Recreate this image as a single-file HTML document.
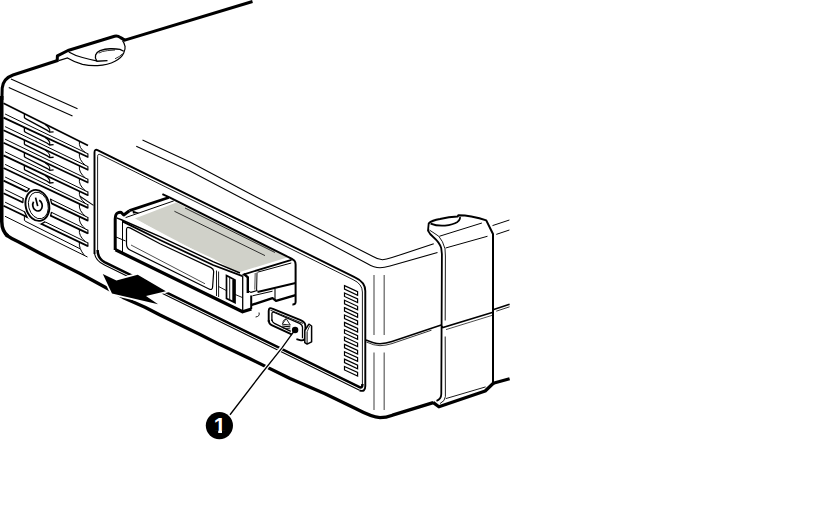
<!DOCTYPE html>
<html><head><meta charset="utf-8"><title>Tape drive eject</title>
<style>html,body{margin:0;padding:0;background:#fff;}svg{display:block;}</style>
</head><body>
<svg width="824" height="508" viewBox="0 0 824 508" stroke-linecap="butt">
<rect width="824" height="508" fill="#fff"/>
<path d="M252.5,1.5 L124,40.4" fill="none" stroke="#000" stroke-width="2.9" />
<path d="M125.2,40.4 L120.6,37.6 Q117.5,35.3 114.5,36.2 L68,50.5 L57.4,55.9 L57.2,60.6" fill="none" stroke="#000" stroke-width="3.0" stroke-linejoin="round"/>
<path d="M58.4,60.3 L13,75 Q3.2,78.4 2.2,88 L1.9,100" fill="none" stroke="#000" stroke-width="3.0" />
<path d="M1.75,96 L1.75,221.5 Q1.9,231.4 8,236.2" fill="none" stroke="#000" stroke-width="3.5" />
<path d="M5.6,234.6 Q11,238.4 18.3,241.8 L25,245.2 L40,253.2 L50,258.4 L80,273.5 L106.6,288 L123,297.4 L145,307.2 L160,315 L200,334.4 L220,344.6 L250,358.8 L290,378.4 L325,393.8 L356,408.8 Q372,417.2 380,417.6 Q386,417.6 392.5,415.2 L433.2,402.6" fill="none" stroke="#000" stroke-width="3.3" stroke-linejoin="round"/>
<path d="M58.75,60.6 L67.5,58 Q75,62.5 82.5,64.4 Q90,66 97.5,65.6 Q108,65 115,61.25 Q121.5,58 123.75,53 Q125.6,49 125,46.25 Q124.4,43 122.5,40.6" fill="none" stroke="#000" stroke-width="1.2" />
<path d="M68.75,51.9 Q75,55.5 82.5,57.5 Q89,59.2 96.5,60.8" fill="none" stroke="#000" stroke-width="1.2" />
<path d="M107.5,60.6 L96.9,61.25 Q94.6,58 95.6,55 Q96.6,52 100,50.6 Q105,48.9 110,48.75 Q116,48.6 120,49.4 L123.75,51.25" fill="none" stroke="#000" stroke-width="1.3" />
<path d="M98.75,53.1 Q102,51.2 107.5,50.6 L115,50" fill="none" stroke="#000" stroke-width="0.8" />
<path d="M115,58.75 Q120,56.6 122.5,53.75" fill="none" stroke="#000" stroke-width="0.8" />
<path d="M11.00,79.00 L77.50,108.75" fill="none" stroke="#000" stroke-width="1.1" />
<path d="M8.75,87.50 L72.50,116.00" fill="none" stroke="#000" stroke-width="1.1" />
<path d="M3.50,103.20 L88.00,145.60" fill="none" stroke="#000" stroke-width="1.7" />
<g id="fins">
<path d="M5.10,114.00 L87.90,153.80" fill="none" stroke="#000" stroke-width="1.0" />
<path d="M3.50,117.60 L87.90,157.00" fill="none" stroke="#000" stroke-width="1.8" />
<path d="M87.90,153.40 L87.90,157.70" fill="none" stroke="#000" stroke-width="1.1" />
<path d="M79.4,141.28 Q78.4,147.78 85.4,152.60" fill="none" stroke="#000" stroke-width="1.0" />
<path d="M24.4,113.69 L24.4,117.59 Q24.7,118.29 26.4,119.09 L47.3,130.38 L49.7,132.18 L53.6,131.78" fill="none" stroke="#000" stroke-width="1.3" />
<path d="M45.2,124.52 Q49,127.03 49.7,129.58 L49.7,132.18" fill="none" stroke="#000" stroke-width="1.1" />
<path d="M5.10,126.60 L87.90,166.53" fill="none" stroke="#000" stroke-width="1.0" />
<path d="M3.50,130.20 L87.90,169.73" fill="none" stroke="#000" stroke-width="1.8" />
<path d="M87.90,166.13 L87.90,170.43" fill="none" stroke="#000" stroke-width="1.1" />
<path d="M79.4,153.03 Q78.4,159.53 85.4,165.32" fill="none" stroke="#000" stroke-width="1.0" />
<path d="M24.4,127.36 L24.4,131.26 Q24.7,131.96 26.4,132.76 L47.3,143.25 L49.7,144.97 L53.6,144.57" fill="none" stroke="#000" stroke-width="1.3" />
<path d="M45.2,137.47 Q49,139.84 49.7,142.37 L49.7,144.97" fill="none" stroke="#000" stroke-width="1.1" />
<path d="M5.10,139.20 L87.90,179.26" fill="none" stroke="#000" stroke-width="1.0" />
<path d="M3.50,142.80 L87.90,182.46" fill="none" stroke="#000" stroke-width="1.8" />
<path d="M87.90,178.86 L87.90,183.16" fill="none" stroke="#000" stroke-width="1.1" />
<path d="M79.4,165.75 Q78.4,172.25 85.4,178.05" fill="none" stroke="#000" stroke-width="1.0" />
<path d="M24.4,139.99 L24.4,143.89 Q24.7,144.59 26.4,145.39 L47.3,155.91 L49.7,157.64 L53.6,157.24" fill="none" stroke="#000" stroke-width="1.3" />
<path d="M45.2,150.13 Q49,152.51 49.7,155.04 L49.7,157.64" fill="none" stroke="#000" stroke-width="1.1" />
<path d="M5.10,151.80 L87.90,191.99" fill="none" stroke="#000" stroke-width="1.0" />
<path d="M3.50,155.40 L87.90,195.19" fill="none" stroke="#000" stroke-width="1.8" />
<path d="M87.90,191.59 L87.90,195.89" fill="none" stroke="#000" stroke-width="1.1" />
<path d="M79.4,178.47 Q78.4,184.97 85.4,190.78" fill="none" stroke="#000" stroke-width="1.0" />
<path d="M24.4,152.62 L24.4,156.52 Q24.7,157.22 26.4,158.02 L47.3,168.58 L49.7,170.31 L53.6,169.91" fill="none" stroke="#000" stroke-width="1.3" />
<path d="M45.2,162.80 Q49,165.18 49.7,167.71 L49.7,170.31" fill="none" stroke="#000" stroke-width="1.1" />
<path d="M5.10,164.40 L87.90,204.72" fill="none" stroke="#000" stroke-width="1.0" />
<path d="M3.50,168.00 L87.90,207.92" fill="none" stroke="#000" stroke-width="1.8" />
<path d="M87.90,204.32 L87.90,208.62" fill="none" stroke="#000" stroke-width="1.1" />
<path d="M79.4,191.18 Q78.4,197.68 85.4,203.50" fill="none" stroke="#000" stroke-width="1.0" />
<path d="M24.4,165.25 L24.4,169.15 Q24.7,169.85 26.4,170.65 L47.3,181.25 L49.7,182.98 L53.6,182.58" fill="none" stroke="#000" stroke-width="1.3" />
<path d="M45.2,175.46 Q49,177.85 49.7,180.38 L49.7,182.98" fill="none" stroke="#000" stroke-width="1.1" />
<path d="M5.10,177.00 L87.90,217.45" fill="none" stroke="#000" stroke-width="1.0" />
<path d="M3.50,180.60 L87.90,220.65" fill="none" stroke="#000" stroke-width="1.8" />
<path d="M87.90,217.05 L87.90,221.35" fill="none" stroke="#000" stroke-width="1.1" />
<path d="M79.4,203.90 Q78.4,210.40 85.4,216.23" fill="none" stroke="#000" stroke-width="1.0" />
<path d="M5.10,189.60 L87.90,230.18" fill="none" stroke="#000" stroke-width="1.0" />
<path d="M3.50,193.20 L87.90,233.38" fill="none" stroke="#000" stroke-width="1.8" />
<path d="M87.90,229.78 L87.90,234.08" fill="none" stroke="#000" stroke-width="1.1" />
<path d="M79.4,216.62 Q78.4,223.12 85.4,228.95" fill="none" stroke="#000" stroke-width="1.0" />
<path d="M5.10,202.20 L87.90,242.91" fill="none" stroke="#000" stroke-width="1.0" />
<path d="M3.50,205.80 L87.90,246.11" fill="none" stroke="#000" stroke-width="1.8" />
<path d="M87.90,242.51 L87.90,246.81" fill="none" stroke="#000" stroke-width="1.1" />
<path d="M79.4,229.33 Q78.4,235.83 85.4,241.68" fill="none" stroke="#000" stroke-width="1.0" />
<path d="M5.00,216.25 L87.50,257.00" fill="none" stroke="#000" stroke-width="1.0" />
<path d="M24.4,215.78 L24.4,220.4 L26,221.6 L80,248.75" fill="none" stroke="#000" stroke-width="1.0" />
<path d="M79.4,242.05 Q78.4,248.05 84.5,255.5" fill="none" stroke="#000" stroke-width="1.0" />
</g>
<path d="M80.00,196.30 L93.50,205.40" fill="none" stroke="#000" stroke-width="1.1" />
<ellipse cx="37.4" cy="205.4" rx="14.4" ry="18.6" fill="#fff" stroke="none" transform="rotate(-14.0 37.4 205.4)"/>
<path d="M29.42,188.48 L26.51,192.12" fill="none" stroke="#000" stroke-width="1.3" />
<path d="M50.52,198.79 L51.71,204.08" fill="none" stroke="#000" stroke-width="1.3" />
<path d="M23.23,198.09 L22.74,202.96" fill="none" stroke="#000" stroke-width="1.3" />
<path d="M51.56,211.97 L50.51,216.18" fill="none" stroke="#000" stroke-width="1.3" />
<path d="M24.29,211.24 L27.36,217.80" fill="none" stroke="#000" stroke-width="1.3" />
<path d="M45.31,221.57 L40.88,224.25" fill="none" stroke="#000" stroke-width="1.3" />
<ellipse cx="37.4" cy="205.4" rx="11.7" ry="15.7" fill="#fff" stroke="#000" stroke-width="1.9" transform="rotate(-14.0 37.4 205.4)"/>
<ellipse cx="38.3" cy="205.7" rx="9.7" ry="13.5" fill="none" stroke="#000" stroke-width="0.9" transform="rotate(-14.0 37.4 205.4)"/>
<g transform="rotate(-14.0 37.4 205.4)">
<path d="M34.6,200.9 A4.7,5.7 0 1 0 40.4,200.9" fill="none" stroke="#000" stroke-width="1.7" />
<path d="M37.50,197.40 L37.50,206.20" fill="none" stroke="#000" stroke-width="1.7" />
</g>
<path d="M94.5,254 L94.5,152.4 Q94.5,148.6 98,150.3 L355,277.3 Q365.3,282 365.3,291 L365.3,386 Q365.3,392.6 359.5,390.3" fill="none" stroke="#000" stroke-width="1.9" stroke-linejoin="round"/>
<path d="M359.5,390.2 L104.5,265.1 Q94.5,260.2 94.5,252" fill="none" stroke="#000" stroke-width="1.1" />
<path d="M97.6,251 L97.6,156.6 Q97.6,153.2 100.8,154.9 L353,279.6 Q362.4,284 362.4,292 L362.4,385" fill="none" stroke="#000" stroke-width="0.9" />
<path d="M362.4,384 Q362.6,389 358.5,386.6 L104.5,262.1 Q97.6,258.4 97.6,250" fill="none" stroke="#000" stroke-width="2.5" stroke-linejoin="round"/>
<path d="M344.5,285.60 L357.6,291.60 L357.6,295.20 L344.5,289.10 Z" fill="#fff" stroke="#000" stroke-width="1.2" />
<path d="M344.5,292.95 L357.6,298.95 L357.6,302.55 L344.5,296.45 Z" fill="#fff" stroke="#000" stroke-width="1.2" />
<path d="M344.5,300.30 L357.6,306.30 L357.6,309.90 L344.5,303.80 Z" fill="#fff" stroke="#000" stroke-width="1.2" />
<path d="M344.5,307.65 L357.6,313.65 L357.6,317.25 L344.5,311.15 Z" fill="#fff" stroke="#000" stroke-width="1.2" />
<path d="M344.5,315.00 L357.6,321.00 L357.6,324.60 L344.5,318.50 Z" fill="#fff" stroke="#000" stroke-width="1.2" />
<path d="M344.5,322.35 L357.6,328.35 L357.6,331.95 L344.5,325.85 Z" fill="#fff" stroke="#000" stroke-width="1.2" />
<path d="M344.5,329.70 L357.6,335.70 L357.6,339.30 L344.5,333.20 Z" fill="#fff" stroke="#000" stroke-width="1.2" />
<path d="M344.5,337.05 L357.6,343.05 L357.6,346.65 L344.5,340.55 Z" fill="#fff" stroke="#000" stroke-width="1.2" />
<path d="M344.5,344.40 L357.6,350.40 L357.6,354.00 L344.5,347.90 Z" fill="#fff" stroke="#000" stroke-width="1.2" />
<path d="M344.5,351.75 L357.6,357.75 L357.6,361.35 L344.5,355.25 Z" fill="#fff" stroke="#000" stroke-width="1.2" />
<path d="M344.5,359.10 L357.6,365.10 L357.6,368.70 L344.5,362.60 Z" fill="#fff" stroke="#000" stroke-width="1.2" />
<path d="M344.5,366.45 L357.6,372.45 L357.6,376.05 L344.5,369.95 Z" fill="#fff" stroke="#000" stroke-width="1.2" />
<path d="M142.5,140 L190,162 L250,193.75 L320,229.5 L372.5,256.25 Q378,259.5 382.5,259.8 Q386,259.6 392,257.6 L433.75,243.75" fill="none" stroke="#000" stroke-width="1.1" />
<path d="M136.25,146.25 L190,171 L250,202.5 L320,238.5 L367.5,263.75 Q374,267.6 380,267.8 Q384,267.6 390,266 L437.5,252.5" fill="none" stroke="#000" stroke-width="1.1" />
<path d="M374.00,275.00 L374.00,335.00" fill="none" stroke="#6a6a6a" stroke-width="1.3" />
<path d="M374.00,352.50 L374.00,410.00" fill="none" stroke="#6a6a6a" stroke-width="1.3" />
<path d="M384.20,275.00 L384.20,335.00" fill="none" stroke="#6a6a6a" stroke-width="1.3" />
<path d="M384.20,352.50 L384.20,410.00" fill="none" stroke="#6a6a6a" stroke-width="1.3" />
<path d="M366,340 Q374,343.6 380,343.8 Q386,343.6 392,341.6 L441.25,325" fill="none" stroke="#000" stroke-width="1.6" />
<path d="M366.3,342 Q374,345.6 380,345.7 Q386,345.5 392,343.6 L431.5,330.2" fill="none" stroke="#000" stroke-width="0.8" />
<path d="M428.75,223.2 Q432,220.3 440,218.9 Q449,217 457.5,216.6 L458.5,215.2 Q465,215.3 471.25,216.4 Q480,218 486.25,220.4 L493,234 L493,383.75" fill="none" stroke="#000" stroke-width="2.0" stroke-linejoin="round"/>
<path d="M493.6,383 L485.2,391 L438.9,406.8 L433.0,402.4" fill="none" stroke="#000" stroke-width="3.2" stroke-linejoin="round"/>
<path d="M428.75,223 L428,230.6 Q429.5,234 433.75,237.5 Q439.5,242.5 441.2,248 L441.9,254 L441.3,394 Q441.2,399 436.5,400.8" fill="none" stroke="#000" stroke-width="1.8" />
<path d="M429.4,230 Q434,233 438.75,236.25 Q443,241 445,248.75 L445.4,256 L445.2,320.5" fill="none" stroke="#000" stroke-width="0.9" />
<path d="M445.2,336.5 L445.4,396.5 Q445.2,401 440,403.6" fill="none" stroke="#000" stroke-width="0.9" />
<path d="M430.6,223.6 Q437,226.2 445,225.6 Q453,224.6 457.5,221.9 Q460.5,219.6 460,217" fill="none" stroke="#000" stroke-width="1.7" />
<path d="M439.40,236.25 L481.90,223.00" fill="none" stroke="#000" stroke-width="1.0" />
<path d="M445.60,248.00 L487.50,236.25" fill="none" stroke="#000" stroke-width="1.0" />
<path d="M492.50,225.60 L509.40,220.00" fill="none" stroke="#000" stroke-width="1.0" />
<path d="M496.25,234.40 L509.40,230.00" fill="none" stroke="#000" stroke-width="1.0" />
<path d="M441.5,326 L442.8,327.6 L493,312.3" fill="none" stroke="#000" stroke-width="1.6" />
<path d="M446,329.6 L492,315.4" fill="none" stroke="#000" stroke-width="0.7" />
<path d="M445.8,398.6 L485.6,386.9" fill="none" stroke="#000" stroke-width="0.9" />
<path d="M493.75,309.40 L509.60,304.30" fill="none" stroke="#000" stroke-width="1.6" />
<path d="M496.25,311.20 L509.60,306.80" fill="none" stroke="#000" stroke-width="0.8" />
<path d="M493.20,383.30 L509.60,378.70" fill="none" stroke="#000" stroke-width="3.2" />
<polygon points="135,218.5 176.25,202.5 288,257.3 237.5,272.8 213,258.6 170,238.6" fill="#d0d1c9"/>
<polygon points="115,216 135,218.75 237.5,273 242.5,275 292,259.5 295.6,263 295.6,296 251,309 242.5,311.25 116,250" fill="#fff"/>
<path d="M174.40,211.25 L265.00,255.60" fill="none" stroke="#111" stroke-width="0.85" />
<path d="M185.00,208.00 L275.00,252.50" fill="none" stroke="#111" stroke-width="0.85" />
<path d="M162.4,194.2 L170,197.6 L287.5,256.6 Q292,258.6 294.2,260.4 Q295.6,262 295.6,264.5 L295.6,302 Q295.6,304.6 292.4,304.4" fill="none" stroke="#000" stroke-width="2.0" stroke-linejoin="round"/>
<path d="M129.40,210.60 L168.75,197.50" fill="none" stroke="#000" stroke-width="2.8" />
<path d="M125.60,217.60 L173.75,200.90" fill="none" stroke="#000" stroke-width="1.0" />
<polygon points="132.4,210.6 139.7,212.9 133,213.6" fill="#000"/>
<path d="M115.2,250 L115.2,219 Q115.4,214 117.5,213 Q119.6,212 121.25,212.5 L123.75,215 L129.4,210.8" fill="none" stroke="#000" stroke-width="3.0" stroke-linejoin="round"/>
<path d="M116.6,217.8 L122,220 L160,236.6 L213,261.6 L240,273" fill="none" stroke="#000" stroke-width="1.4" />
<path d="M122.4,221.4 L160,240 L213,265 L242.5,276.2" fill="none" stroke="#000" stroke-width="1.8" />
<path d="M122.50,220.00 L122.50,252.00" fill="none" stroke="#000" stroke-width="1.0" />
<path d="M116.00,237.00 L125.60,241.00" fill="none" stroke="#000" stroke-width="1.0" />
<path d="M115.5,249.8 L242.6,311.8 L251.4,309" fill="none" stroke="#000" stroke-width="3.3" stroke-linejoin="round"/>
<path d="M126.5,243 L126.5,229.6 Q126.6,226.2 130,227.9 L160,243.8 L211,267.6 Q213.8,269 213.7,271.6 L212.6,287 Q212.4,290.6 209,289 L130,250 Q126.5,248.4 126.5,244 Z" fill="none" stroke="#000" stroke-width="1.2" />
<path d="M131.00,245.00 L205.00,283.75" fill="none" stroke="#000" stroke-width="0.7" />
<path d="M216.50,270.50 L216.50,296.00" fill="none" stroke="#000" stroke-width="0.9" />
<path d="M218.60,271.50 L218.60,297.00" fill="none" stroke="#000" stroke-width="0.9" />
<path d="M226.5,275.6 L235,279.9 L235,302.6 L226.5,298.4 Z" fill="#fff" stroke="#000" stroke-width="1.7" />
<path d="M229.70,278.00 L229.70,299.50" fill="none" stroke="#000" stroke-width="0.9" />
<path d="M233.60,279.60 L233.60,301.60" fill="none" stroke="#000" stroke-width="2.6" />
<path d="M218.60,286.50 L226.00,290.40" fill="none" stroke="#000" stroke-width="0.9" />
<path d="M235.00,294.40 L242.50,297.60" fill="none" stroke="#000" stroke-width="0.9" />
<path d="M242.70,276.00 L242.70,311.00" fill="none" stroke="#000" stroke-width="1.3" />
<path d="M242.5,274.8 L291.5,259.8" fill="none" stroke="#000" stroke-width="1.8" />
<path d="M257.50,272.20 L291.25,263.00" fill="none" stroke="#000" stroke-width="1.0" />
<path d="M243.8,273.9 L247.8,277.4 L247.8,293" fill="none" stroke="#000" stroke-width="2.4" />
<path d="M257,272.6 L256.6,290.4" fill="none" stroke="#000" stroke-width="1.0" />
<path d="M255.2,273 L254.8,289.6" fill="none" stroke="#000" stroke-width="0.7" />
<path d="M247.4,290.4 L251,292.4 L257.5,290.4" fill="none" stroke="#000" stroke-width="1.1" />
<path d="M257.50,292.00 L295.60,283.00" fill="none" stroke="#000" stroke-width="1.9" />
<path d="M252.50,295.80 L272.50,291.20" fill="none" stroke="#000" stroke-width="1.0" />
<path d="M275.00,288.75 L275.00,300.00" fill="none" stroke="#000" stroke-width="1.1" />
<path d="M251,305.2 L272.5,298.2 L276,300.8 L295.6,295.2" fill="none" stroke="#000" stroke-width="2.3" stroke-linejoin="round"/>
<path d="M251.20,295.50 L251.20,309.00" fill="none" stroke="#000" stroke-width="2.0" />
<polygon points="102.8,273.9 116.4,280.5 137.7,274.7 165.9,291.2 146,296.1 158.1,304.3 112,293.6" fill="#fff" stroke="#fff" stroke-width="3.4" stroke-linejoin="miter"/>
<polygon points="102.8,273.9 116.4,280.5 137.7,274.7 165.9,291.2 146,296.1 158.1,304.3 112,293.6" fill="#000"/>
<path d="M268.7,322 L268.7,311 Q268.8,307 272.3,308.6 L300.6,320.2 Q305.4,322.2 305.4,326 L305.4,336 Q305.4,340.8 301,340.3 L296.4,339.1" fill="none" stroke="#000" stroke-width="1.9" stroke-linejoin="round"/>
<path d="M268.7,320 Q268.8,323.8 271.6,325.1 L291.7,334.3" fill="none" stroke="#000" stroke-width="1.9" />
<path d="M270.4,310.2 L303,323.4" fill="none" stroke="#000" stroke-width="0.9" />
<path d="M271.9,321 L271.9,313.6 Q272,311.4 274.4,312.5 L299.5,323.4 Q302.5,324.8 302.5,327.4 L302.5,338.2" fill="none" stroke="#000" stroke-width="1.3" />
<path d="M271.9,319.5 Q272,322 274.4,323.4 L290.8,331.3" fill="none" stroke="#000" stroke-width="1.3" />
<path d="M286.2,318.6 L282.2,324.2 L290.3,325.1 Z" fill="none" stroke="#000" stroke-width="0.9" />
<path d="M282.6,322.6 Q283.2,319.8 285.6,318.8" fill="none" stroke="#000" stroke-width="0.7" />
<path d="M282.20,326.00 L290.30,326.90" fill="none" stroke="#000" stroke-width="1.1" />
<path d="M282.60,327.90 L290.30,328.80" fill="none" stroke="#000" stroke-width="0.8" />
<circle cx="295.1" cy="330" r="3.2" fill="#000"/>
<path d="M304.8,330.5 L308.9,324.2 L311.6,326 L311.6,341.8 L307.1,344.1 L304.8,342.7 Z" fill="#fff" stroke="#000" stroke-width="1.5" stroke-linejoin="round"/>
<path d="M307.1,331.8 L307.1,343.8" fill="none" stroke="#000" stroke-width="1.0" />
<path d="M307.1,331.8 L309.6,326" fill="none" stroke="#000" stroke-width="0.8" />
<path d="M259,312.5 Q260.2,316.4 255.6,317" fill="none" stroke="#000" stroke-width="0.9" />
<path d="M288.20,339.00 L231.50,412.80" fill="none" stroke="#fff" stroke-width="3.8" />
<path d="M295,330 L289.9,336.8 L282.2,347.6 L262,373 L230,414.75" fill="none" stroke="#000" stroke-width="1.3" />
<circle cx="219.4" cy="425.6" r="13.6" fill="#000"/>
<text x="219.7" y="432.7" font-family="'Liberation Sans', sans-serif" font-weight="bold" font-size="21.6" fill="#fff" text-anchor="middle">1</text>
<rect x="212.6" y="430.2" width="5.6" height="3.6" fill="#000"/>
<rect x="222.0" y="430.2" width="5.6" height="3.6" fill="#000"/>
</svg>
</body></html>
